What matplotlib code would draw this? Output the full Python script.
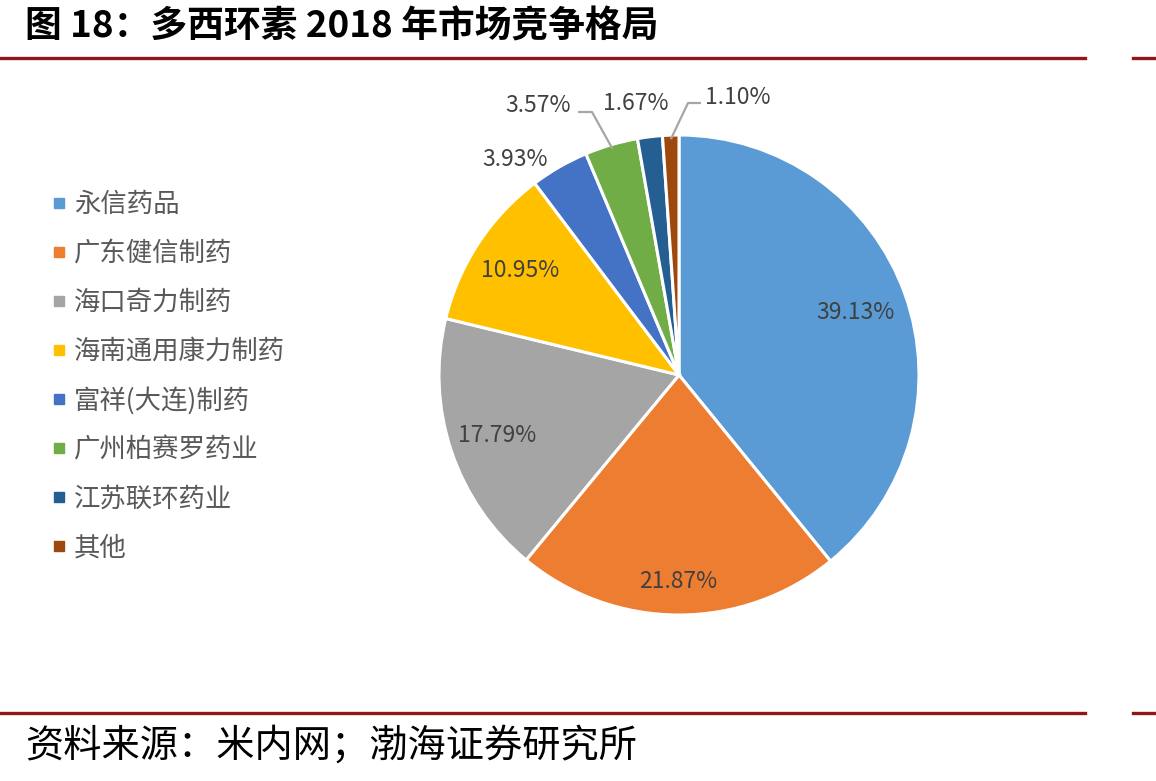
import numpy as np
import matplotlib
matplotlib.use("Agg")
import matplotlib.pyplot as plt
from matplotlib.lines import Line2D

plt.rcParams["font.family"] = ["Noto Sans CJK SC", "DejaVu Sans"]

# Data
companies = ["永信药品", "广东健信制药", "海口奇力制药", "海南通用康力制药",
             "富祥(大连)制药", "广州柏赛罗药业", "江苏联环药业", "其他"]
shares = [39.13, 21.87, 17.79, 10.95, 3.93, 3.57, 1.67, 1.10]
colors = ["#5B9BD5", "#ED7D31", "#A5A5A5", "#FFC000",
          "#4472C4", "#70AD47", "#255E91", "#9E480E"]

title = "图 18：多西环素 2018 年市场竞争格局"
source = "资料来源：米内网；渤海证券研究所"

W, H = 1156, 781
fig = plt.figure(figsize=(W / 100, H / 100), dpi=100)
ax = fig.add_axes([0, 0, 1, 1])

cx, cy, R = 679, H - 375, 240
wedges, _ = ax.pie(shares, colors=colors, startangle=90, counterclock=False,
                   center=(cx, cy), radius=R,
                   wedgeprops=dict(edgecolor="white", linewidth=2.2))
ax.set_xlim(0, W)
ax.set_ylim(0, H)
ax.set_aspect("equal")
ax.axis("off")

# label placement: inside labels by radius fraction, small ones placed outside
inside_r = [0.78, 0.86, 0.80, 0.79]
outside = {4: (515, 159), 5: (538, 105), 6: (636, 104), 7: (738, 97)}
# leader lines: (elbow, end) in pixel coords (y from top)
leaders = {5: ((592, 112), (578, 112)), 7: ((688, 103), (701, 103))}

lab_color = "#404040"
for i, (w, v) in enumerate(zip(wedges, shares)):
    mid = np.deg2rad((w.theta1 + w.theta2) / 2)
    txt = f"{v:.2f}%"
    if i < len(inside_r):
        r = inside_r[i] * R
        ax.text(cx + r * np.cos(mid), cy + r * np.sin(mid), txt,
                ha="center", va="center", fontsize=16.5, color=lab_color)
    else:
        px, py = outside[i]
        ax.text(px, H - py, txt, ha="center", va="center",
                fontsize=16.5, color=lab_color)
        if i in leaders:
            (ex, ey), (tx, ty) = leaders[i]
            sx, sy = cx + (R - 4) * np.cos(mid), cy + (R - 4) * np.sin(mid)
            ax.plot([sx, ex, tx], [sy, H - ey, H - ty], color="#A6A6A6",
                    lw=1.6, solid_capstyle="butt")

# legend
handles = [Line2D([], [], marker="s", linestyle="none", markersize=7,
                  markerfacecolor=c, markeredgecolor=c) for c in colors]
fig.legend(handles, companies, loc="upper left",
           bbox_to_anchor=(38 / W, 1 - 178 / H), frameon=False,
           fontsize=19, labelcolor="#595959", handlelength=0.6,
           handletextpad=0.25, labelspacing=0.83, borderpad=0)

# title, rules, source
fig.text(25 / W, 1 - 27 / H, title, fontsize=26.5, fontweight="bold",
         color="black", ha="left", va="center")
red = "#921518"
for y in (58, 713):
    fig.add_artist(Line2D([0, 1085 / W], [1 - y / H] * 2, color=red, lw=2.4))
    fig.add_artist(Line2D([1133 / W, 1], [1 - y / H] * 2, color=red, lw=2.4))
fig.text(25 / W, 1 - 746 / H, source, fontsize=27.5, style="italic",
         color="black", ha="left", va="center")

fig.savefig("out.png", dpi=100)
